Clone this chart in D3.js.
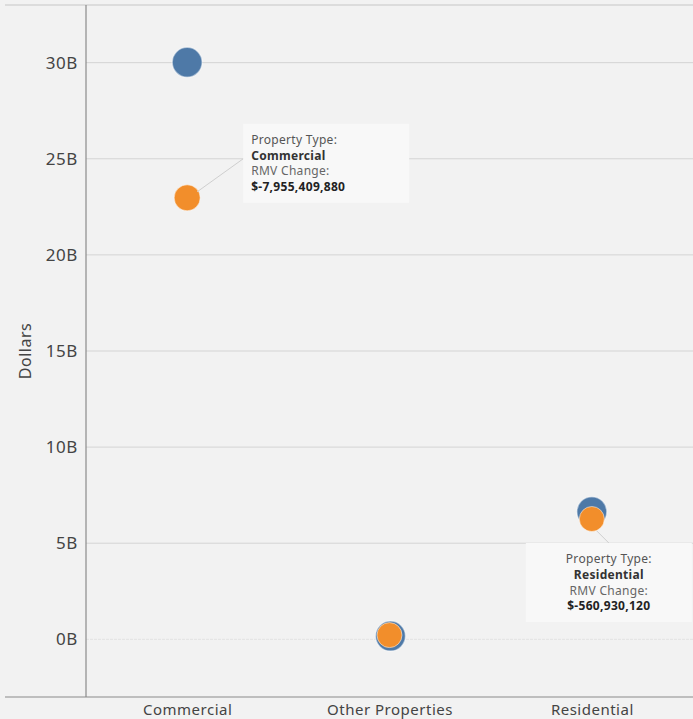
<!DOCTYPE html>
<html>
<head>
<meta charset="utf-8">
<script src="https://cdn.jsdelivr.net/npm/d3@7/dist/d3.min.js"></script>
<style>
  html, body { margin: 0; padding: 0; background: #f2f2f2; }
  svg { display: block; font-family: "Noto Sans", sans-serif; }
</style>
</head>
<body>
<svg id="chart" width="693" height="719"></svg>
<script>
// Property types along the x axis
const categories = ["Commercial", "Other Properties", "Residential"];
// Real market value, earlier year (blue) and later year (orange), in dollars
const valuesBefore = [30.02e9, 0.17e9, 6.64e9];
const valuesAfter = [22.97e9, 0.22e9, 6.26e9];
// Y axis ticks
const yTicks = [0, 5e9, 10e9, 15e9, 20e9, 25e9, 30e9];
// Callouts shown next to the later-year markers
const calloutTypes = ["Commercial", "Residential"];
const calloutChanges = [-7955409880, -560930120];

const W = 693, H = 719;
const m = { left: 86, right: 0, top: 5, bottom: 22 };
const svg = d3.select("#chart");

const x = d3.scalePoint().domain(categories).range([m.left, W - m.right]).padding(0.5);
const y = d3.scaleLinear().domain([-3e9, 33e9]).range([H - m.bottom, m.top]);

// top border line
svg.append("line").attr("x1", 5).attr("x2", W).attr("y1", m.top).attr("y2", m.top)
  .attr("stroke", "#dcdcdc").attr("stroke-width", 2);

// gridlines
svg.append("g").selectAll("line").data(yTicks).join("line")
  .attr("x1", m.left).attr("x2", W)
  .attr("y1", d => y(d)).attr("y2", d => y(d))
  .attr("stroke", d => d === 0 ? "#e2e2e2" : "#d4d4d4")
  .attr("stroke-width", 1)
  .attr("stroke-dasharray", d => d === 0 ? "3,1" : null);

// y axis
const yAxis = svg.append("g").attr("transform", `translate(${m.left},0)`)
  .call(d3.axisLeft(y).tickValues(yTicks).tickSize(0).tickPadding(8)
    .tickFormat(d => (d / 1e9) + "B"));
yAxis.select(".domain").remove();
yAxis.selectAll("text").attr("font-size", 17).attr("fill", "#444")
  .attr("letter-spacing", 0.6)
  .attr("font-family", "\"Noto Sans\", sans-serif");

svg.append("line").attr("x1", m.left).attr("x2", m.left)
  .attr("y1", m.top).attr("y2", H - m.bottom)
  .attr("stroke", "#8a8a8a").attr("stroke-width", 1.2);

// x axis
const xAxis = svg.append("g").attr("transform", `translate(0,${H - m.bottom})`)
  .call(d3.axisBottom(x).tickSize(0).tickPadding(7));
xAxis.select(".domain").remove();
xAxis.selectAll("text").attr("font-size", 15).attr("fill", "#444")
  .attr("letter-spacing", 0.5)
  .attr("font-family", "\"Noto Sans\", sans-serif");
svg.append("line").attr("x1", 5).attr("x2", W)
  .attr("y1", H - m.bottom).attr("y2", H - m.bottom)
  .attr("stroke", "#8a8a8a").attr("stroke-width", 1.2);

// y axis title
svg.append("text")
  .attr("transform", `translate(31,${y(15e9)}) rotate(-90)`)
  .attr("text-anchor", "middle").attr("font-size", 16).attr("fill", "#444")
  .attr("letter-spacing", 0.5)
  .text("Dollars");

// markers
const before = categories.map((c, i) => ({ c, v: valuesBefore[i] }));
const after = categories.map((c, i) => ({ c, v: valuesAfter[i] }));

svg.append("g").selectAll("circle").data(before).join("circle")
  .attr("cx", d => x(d.c) + (d.c === "Other Properties" ? 1 : 0))
  .attr("cy", d => y(d.v))
  .attr("r", 15)
  .attr("fill", "#4e79a7")
  .attr("stroke", "#ffffff").attr("stroke-opacity", 0.5).attr("stroke-width", 1.5);

svg.append("g").selectAll("circle").data(after).join("circle")
  .attr("cx", d => x(d.c))
  .attr("cy", d => y(d.v))
  .attr("r", d => d.c === "Commercial" ? 13 : 12.5)
  .attr("fill", "#f28e2b")
  .attr("stroke", "#ffffff").attr("stroke-opacity", 0.5).attr("stroke-width", 1);

// callouts
const fmt = d3.format(",");
const money = v => "$" + (v < 0 ? "-" : "") + fmt(Math.abs(v));
const callouts = calloutTypes.map((t, i) => ({ t, change: calloutChanges[i] }));
const boxW = 166, boxH = 79;
const layout = {
  Commercial: { dx: 56, dy: -74, anchor: "start", from: [10, -6], to: [0, 35] },
  Residential: { dx: -66, dy: 24, anchor: "middle", from: [5, 12], to: [83, 0] }
};

callouts.forEach(cl => {
  const idx = categories.indexOf(cl.t);
  const cx = x(cl.t), cy = y(valuesAfter[idx]);
  const L = layout[cl.t];
  const bx = cx + L.dx, by = cy + L.dy;
  const g = svg.append("g");
  g.append("line")
    .attr("x1", cx + L.from[0]).attr("y1", cy + L.from[1])
    .attr("x2", bx + L.to[0]).attr("y2", by + L.to[1])
    .attr("stroke", "#cfcfcf").attr("stroke-width", 1);
  g.append("rect").attr("x", bx).attr("y", by).attr("width", boxW).attr("height", boxH)
    .attr("fill", "#f8f8f8");
  const tx = L.anchor === "start" ? bx + 8 : bx + boxW / 2;
  const lines = [
    { s: "Property Type:", w: 400, c: "#555" },
    { s: cl.t, w: 700, c: "#333" },
    { s: "RMV Change:", w: 400, c: "#666" },
    { s: money(cl.change), w: 700, c: "#222" }
  ];
  g.selectAll("text").data(lines).join("text")
    .attr("x", tx).attr("y", (d, i) => by + 20 + i * 15.8)
    .attr("text-anchor", L.anchor)
    .attr("font-size", 12).attr("font-weight", d => d.w).attr("fill", d => d.c)
    .attr("letter-spacing", 0.3)
    .text(d => d.s);
});
</script>
</body>
</html>
